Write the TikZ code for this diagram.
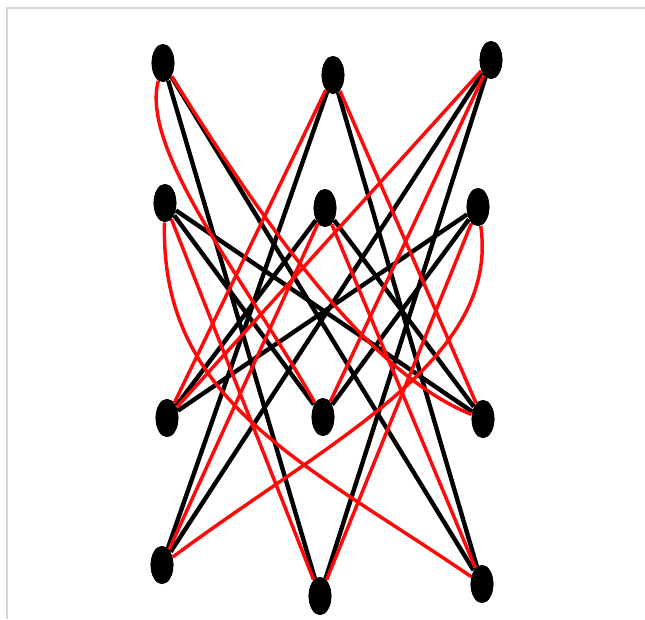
\documentclass[tikz,border=0pt]{standalone}
\usetikzlibrary{shapes.geometric}

\tikzset{every picture/.style={line width=0.75pt}}
\tikzset{
  vtx/.style={ellipse,fill=black,draw=none,minimum width=17pt,minimum height=28.5pt,inner sep=0pt},
  blackedge/.style={draw=black,line width=3.3pt},
  rededge/.style={draw={rgb, 255:red, 255; green, 10; blue, 10},line width=2.6pt},
  frameline/.style={draw={rgb, 255:red, 214; green, 214; blue, 214},line width=0.9pt}
}

\begin{document}
\begin{tikzpicture}[x=0.75pt,y=0.75pt,yscale=-1,xscale=1]
\useasboundingbox (0,0) rectangle (645,619);

%Frame
\draw [frameline] (7,619) -- (7,8) -- (645,8) ;

%Top rows
\node [vtx] (A) at (163,63) {};
\node [vtx] (B) at (333,75) {};
\node [vtx] (C) at (491,60) {};
\node [vtx] (D) at (165,203) {};
\node [vtx] (E) at (325,208) {};
\node [vtx] (F) at (478,207) {};
%Bottom rows
\node [vtx] (G) at (167,418) {};
\node [vtx] (H) at (323,417) {};
\node [vtx] (I) at (483,419) {};
\node [vtx] (J) at (162,565) {};
\node [vtx] (K) at (320,596) {};
\node [vtx] (L) at (482,584) {};

%Black edges
\draw [blackedge] (A) -- (K) ;
\draw [blackedge] (A) -- (L) ;
\draw [blackedge] (B) -- (J) ;
\draw [blackedge] (B) -- (L) ;
\draw [blackedge] (C) -- (J) ;
\draw [blackedge] (C) -- (K) ;
\draw [blackedge] (D) -- (H) ;
\draw [blackedge] (D) -- (I) ;
\draw [blackedge] (E) -- (G) ;
\draw [blackedge] (E) -- (I) ;
\draw [blackedge] (F) -- (G) ;
\draw [blackedge] (F) -- (H) ;

%Red edges
\draw [rededge] (B) -- (G) ;
\draw [rededge] (B) -- (I) ;
\draw [rededge] (C) -- (G) ;
\draw [rededge] (C) -- (H) ;
\draw [rededge] (D) -- (K) ;
\draw [rededge] (E) -- (J) ;
\draw [rededge] (E) -- (L) ;
\draw [rededge] (F) -- (K) ;
%Curve Lines
\draw [rededge] (A) .. controls (140,150) and (245,280) .. (H) ;
\draw [rededge] (A) .. controls (250,200) and (360,370) .. (I) ;
\draw [rededge] (D) .. controls (160,400) and (300,460) .. (L) ;
\draw [rededge] (F) .. controls (500,360) and (330,440) .. (J) ;

%Vertices on top
\foreach \p in {(163,63),(333,75),(491,60),(165,203),(325,208),(478,207),(167,418),(323,417),(483,419),(162,565),(320,596),(482,584)}
  \node [vtx] at \p {};

\end{tikzpicture}
\end{document}
